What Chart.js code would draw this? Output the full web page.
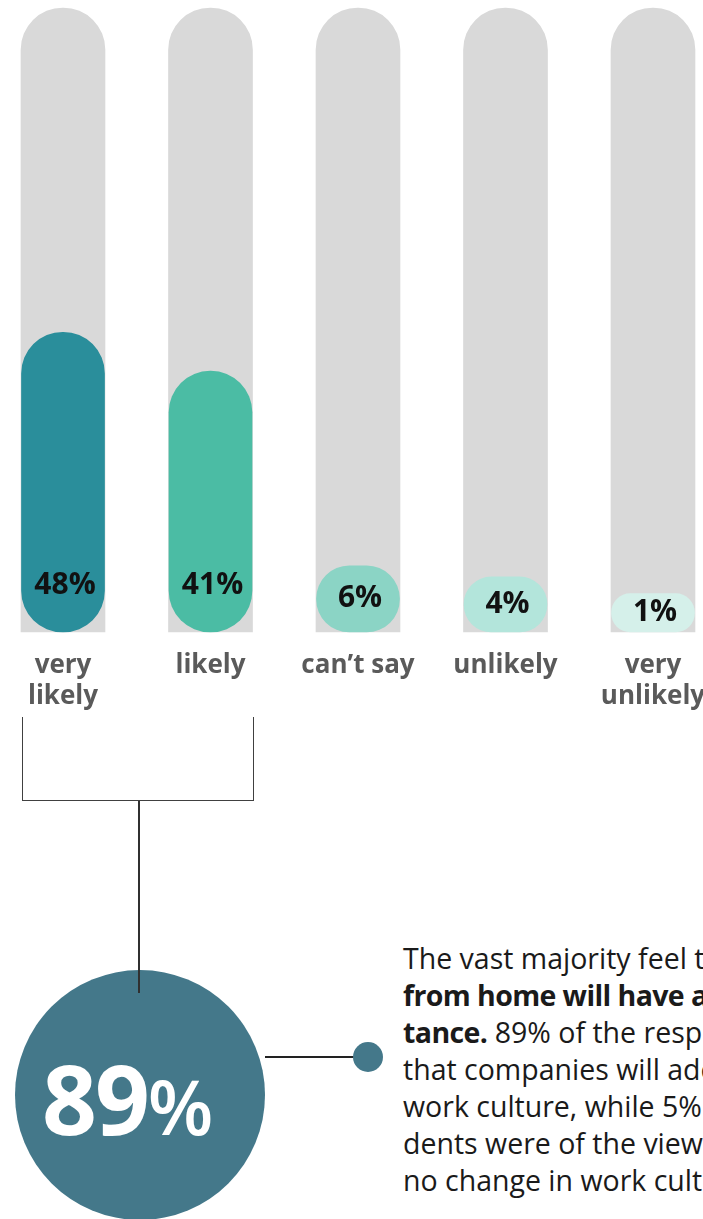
<!DOCTYPE html>
<html>
<head>
<meta charset="utf-8">
<script src="https://cdn.jsdelivr.net/npm/chart.js@4.4.1/dist/chart.umd.min.js"></script>
<style>
    body {
        margin: 0;
        width: 703px;
        height: 1219px;
        position: relative;
        overflow: hidden;
        background: #ffffff;
        font-family: 'Open Sans', sans-serif;
    }
    #chartBox {
        position: absolute;
        left: 0;
        top: 0;
        width: 740px;
        height: 720px;
    }
    .bracket {
        position: absolute;
        left: 22px;
        top: 717px;
        width: 230px;
        height: 83px;
        border: 1.5px solid #404040;
        border-top: none;
    }
    .stem {
        position: absolute;
        left: 138px;
        top: 801px;
        width: 1.5px;
        height: 192px;
        background: #303030;
        z-index: 2;
    }
    .circle {
        position: absolute;
        left: 15px;
        top: 970px;
        width: 250px;
        height: 250px;
        border-radius: 50%;
        background: #44788a;
    }
    .bigNumber {
        position: absolute;
        left: 42px;
        top: 1050px;
        line-height: 1;
        color: #ffffff;
        font-weight: 700;
        font-size: 96px;
        letter-spacing: -2px;
        white-space: nowrap;
    }
    .bigNumber span {
        font-size: 76px;
        font-weight: 600;
    }
    .connector {
        position: absolute;
        left: 265px;
        top: 1056px;
        width: 90px;
        height: 1.5px;
        background: #222222;
    }
    .dot {
        position: absolute;
        left: 353px;
        top: 1042px;
        width: 30px;
        height: 30px;
        border-radius: 50%;
        background: #44788a;
    }
    .note {
        position: absolute;
        left: 403px;
        top: 940px;
        margin: 0;
        font-size: 28.5px;
        line-height: 37px;
        color: #1a1a1a;
        white-space: nowrap;
    }
    .note b {
        font-weight: 700;
        letter-spacing: -0.6px;
    }
</style>
</head>
<body>
<div id="chartBox"><canvas id="likelihoodChart"></canvas></div>
<div class="bracket"></div>
<div class="circle"></div>
<div class="stem"></div>
<div class="bigNumber">89<span>%</span></div>
<div class="connector"></div>
<div class="dot"></div>
<p class="note">The vast majority feel that working<br><b>from home will have a lasting impor-</b><br><b>tance.</b> 89% of the respondents believe<br>that companies will adopt a hybrid<br>work culture, while 5% of the respon-<br>dents were of the view that there will be<br>no change in work culture.</p>

<script>
// Answers to "will companies adopt a hybrid work culture?"
const categories = [['very', 'likely'], 'likely', 'can’t say', 'unlikely', ['very', 'unlikely']];
const shares = [48, 41, 6, 4, 1];
const shareLabels = ['48%', '41%', '6%', '4%', '1%'];
const barColours = ['#2a8e9b', '#4bbca4', '#8bd4c5', '#b3e5db', '#d5f0ea'];

// The pills start a little below zero so the small answers still fit their label
const SCALE_MIN = -5.9;
const SCALE_MAX = 106.3;
const trackValues = [106.3, 106.3, 106.3, 106.3, 106.3];

/**
 * Write each share near the bottom of its pill
 */
const shareLabelPlugin = {
    id: 'shareLabels',
    afterDatasetsDraw: (chart) => {
        const ctx = chart.ctx;
        const meta = chart.getDatasetMeta(0);
        ctx.save();
        ctx.font = 'bold 30px "Open Sans"';
        ctx.fillStyle = '#111111';
        ctx.textAlign = 'center';
        ctx.textBaseline = 'middle';
        meta.data.forEach((bar, i) => {
            const mid = (bar.y + bar.base) / 2;
            const y = Math.max(mid, bar.base - 47);
            ctx.fillText(shareLabels[i], bar.x + 2, y);
        });
        ctx.restore();
    },
};

new Chart(document.getElementById('likelihoodChart'), {
    type: 'bar',
    data: {
        labels: categories,
        datasets: [
            {
                data: shares,
                backgroundColor: barColours,
                borderRadius: 200,
                borderSkipped: false,
                barThickness: 83,
                grouped: false,
                base: SCALE_MIN,
                clip: false,
            },
            {
                data: trackValues,
                backgroundColor: '#d9d9d9',
                borderRadius: { topLeft: 42, topRight: 42 },
                borderSkipped: 'start',
                barThickness: 84,
                grouped: false,
                base: SCALE_MIN,
                clip: false,
            },
        ],
    },
    plugins: [shareLabelPlugin],
    options: {
        responsive: true,
        maintainAspectRatio: false,
        animation: false,
        layout: {
            padding: { top: 8, left: 63, right: 87, bottom: 2 },
        },
        plugins: {
            legend: { display: false },
            tooltip: { enabled: false },
        },
        scales: {
            x: {
                offset: false,
                grid: { display: false },
                border: { display: false },
                ticks: {
                    color: '#5a5a5a',
                    padding: 10,
                    maxRotation: 0,
                    autoSkip: false,
                    font: { family: 'Open Sans', size: 26, weight: 'bold', lineHeight: 1.2 },
                },
                afterFit: (scale) => {
                    scale.height = 86;
                },
            },
            y: {
                display: false,
                min: SCALE_MIN,
                max: SCALE_MAX,
            },
        },
    },
});
</script>
</body>
</html>
